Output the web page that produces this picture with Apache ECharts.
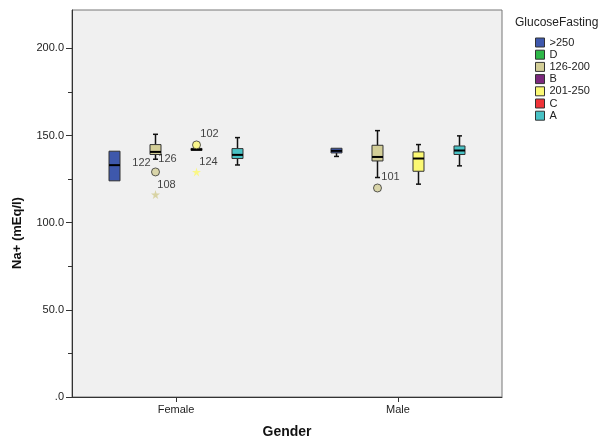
<!DOCTYPE html>
<html>
<head>
<meta charset="utf-8">
<script src="https://cdn.jsdelivr.net/npm/echarts@6/dist/echarts.min.js"></script>
<style>html,body{margin:0;padding:0;background:#fff}#c{width:608px;height:440px}</style>
</head>
<body>
<div id="c"></div>
<script>
// ---- data ----
const genders = ['Female', 'Male'];
const groups = ['>250', 'D', '126-200', 'B', '201-250', 'C', 'A'];
const groupColors = ['#3e58ac', '#2eb848', '#d3ce97', '#7c287d', '#fbf873', '#ef3338', '#48c2c5'];
// box stats per gender: [min, Q1, median, Q3, max]
const boxGt250 = [[124, 124, 133, 141, 141], [138, 140, 141.2, 142.7, 142.7]];
const box126_200 = [[136.4, 139.1, 140.6, 144.8, 150.7], [125.9, 135.4, 137.7, 144.4, 152.8]];
const box201_250 = [[141.4, 141.4, 142, 142.6, 142.6], [122.1, 129.5, 136.8, 140.6, 144.8]];
const boxA = [[133.1, 136.8, 138.9, 142.5, 148.8], [132.6, 139.1, 141.4, 144.0, 149.8]];
// outliers: [genderIndex, group, value]
const outlierCircles = [[0, '126-200', 129.1], [0, '201-250', 144.6], [1, '126-200', 119.9]];
const extremeStars = [[0, '126-200', 116.1], [0, '201-250', 129.1]];
// case labels: [genderIndex, group, value, caseId]
const caseLabels = [
  [0, '126-200', 129.1, '122'], [0, '126-200', 129.1, '126'], [0, '126-200', 116.1, '108'],
  [0, '201-250', 144.6, '102'], [0, '201-250', 129.1, '124'], [1, '126-200', 119.9, '101']
];
const yTicks = [0, 50, 100, 150, 200];
const yMinorTicks = [25, 75, 125, 175];

// ---- layout ----
const labelOffsets = { '122': [-14, -9], '126': [12, -13], '108': [11, -10], '102': [13, -11], '124': [12, -10], '101': [13, -11] };
const SLOT = 41 / 222;
const slotIndex = { '>250': 0, '126-200': 1, '201-250': 2, 'A': 3 };
function xPos(g, grp) { return g + (slotIndex[grp] - 1.5) * SLOT; }
function colorOf(grp) { return groupColors[groups.indexOf(grp)]; }

const boxData = { '>250': boxGt250, '126-200': box126_200, '201-250': box201_250, 'A': boxA };
const FONT = 'Liberation Sans, Arial, sans-serif';

function renderBox(params, api) {
  const x = api.value(0);
  const ys = [1, 2, 3, 4, 5].map(i => api.coord([x, api.value(i)])[1]);
  const cx = api.coord([x, 0])[0];
  const [pMin, pQ1, pMed, pQ3, pMax] = ys;
  const w = 11, cap = 5;
  const col = api.visual('color');
  const ls = { stroke: '#111', lineWidth: 1.5 };
  const ch = [];
  if (pQ3 - pMax > 0.5) {
    ch.push({ type: 'line', shape: { x1: cx, y1: pMax, x2: cx, y2: pQ3 }, style: ls });
    ch.push({ type: 'line', shape: { x1: cx - cap / 2, y1: pMax, x2: cx + cap / 2, y2: pMax }, style: ls });
  }
  if (pMin - pQ1 > 0.5) {
    ch.push({ type: 'line', shape: { x1: cx, y1: pQ1, x2: cx, y2: pMin }, style: ls });
    ch.push({ type: 'line', shape: { x1: cx - cap / 2, y1: pMin, x2: cx + cap / 2, y2: pMin }, style: ls });
  }
  ch.push({ type: 'rect', shape: { x: cx - w / 2, y: pQ3, width: w, height: Math.max(pQ1 - pQ3, 2) }, style: { fill: col, stroke: '#333', lineWidth: 1 } });
  ch.push({ type: 'line', shape: { x1: cx - w / 2, y1: pMed, x2: cx + w / 2, y2: pMed }, style: { stroke: '#000', lineWidth: 2 } });
  return { type: 'group', children: ch };
}

const series = groups.map((grp, i) => ({
  type: 'custom',
  name: grp,
  renderItem: renderBox,
  itemStyle: { color: groupColors[i] },
  encode: { x: 0, y: [1, 2, 3, 4, 5] },
  data: boxData[grp] ? boxData[grp].map((s, g) => [xPos(g, grp)].concat(s)) : [],
  z: 2
}));

series.push({
  type: 'scatter', name: 'outliers', symbol: 'circle', symbolSize: 8, z: 3,
  data: outlierCircles.map(o => ({ value: [xPos(o[0], o[1]), o[2]], itemStyle: { color: colorOf(o[1]), borderColor: '#333', borderWidth: 1 } }))
});
series.push({
  type: 'scatter', name: 'extremes', z: 3,
  symbol: 'path://M50,0 L61,35 L98,35 L68,57 L79,91 L50,70 L21,91 L32,57 L2,35 L39,35 Z', symbolSize: 9,
  data: extremeStars.map(o => ({ value: [xPos(o[0], o[1]), o[2]], itemStyle: { color: colorOf(o[1]), opacity: 0.85 } }))
});
series.push({
  type: 'scatter', name: 'caseLabels', symbolSize: 0, z: 4, silent: true,
  data: caseLabels.map(o => ({
    value: [xPos(o[0], o[1]), o[2]],
    label: { show: true, formatter: o[3], offset: labelOffsets[o[3]], position: 'inside', color: '#111', fontSize: 11, fontFamily: FONT }
  }))
});

const chart = echarts.init(document.getElementById('c'), null, { renderer: 'canvas' });
chart.setOption({
  animation: false,
  backgroundColor: '#fff',
  title: { text: 'GlucoseFasting', left: 510, top: 12, textStyle: { fontSize: 12, fontWeight: 'normal', color: '#222', fontFamily: FONT } },
  legend: {
    orient: 'vertical', left: 530, top: 32, itemWidth: 9, itemHeight: 9, itemGap: 1.2, icon: 'rect',
    textStyle: { fontSize: 11, color: '#222', fontFamily: FONT },
    data: groups.map((g, i) => ({ name: g, itemStyle: { color: groupColors[i], borderColor: '#333', borderWidth: 1 } })),
    selectedMode: false
  },
  grid: { left: 72, right: 106, top: 10, bottom: 43, outerBoundsMode: 'none', containLabel: false, show: true, backgroundColor: '#f0f0f0', borderColor: '#777', borderWidth: 1 },
  xAxis: {
    type: 'value', min: -0.4685, max: 1.4685,
    name: 'Gender', nameLocation: 'middle', nameGap: 28, nameMoveOverlap: false,
    nameTextStyle: { fontSize: 14, fontWeight: 'bold', color: '#111', fontFamily: FONT },
    axisLine: { onZero: false, lineStyle: { color: '#333' } },
    axisTick: { length: 5, customValues: [0, 1], lineStyle: { color: '#333' } },
    axisLabel: { customValues: [0, 1], formatter: v => genders[Math.round(v)], fontSize: 11, color: '#222', margin: 7, fontFamily: FONT },
    splitLine: { show: false }
  },
  yAxis: [{
    type: 'value', min: 0, max: 222, position: 'left',
    axisLine: { show: true, onZero: false, lineStyle: { color: '#333' } },
    axisTick: { show: true, length: 6, customValues: yTicks, lineStyle: { color: '#333' } },
    axisLabel: { customValues: yTicks, formatter: v => v === 0 ? '.0' : v.toFixed(1), fontSize: 11, color: '#222', margin: 8, fontFamily: FONT },
    splitLine: { show: false }
  }, {
    type: 'value', min: 0, max: 222, position: 'left',
    axisLine: { show: false, onZero: false },
    axisTick: { show: true, length: 4, customValues: yMinorTicks, lineStyle: { color: '#333' } },
    axisLabel: { show: false },
    splitLine: { show: false }
  }],
  graphic: [{
    type: 'text', x: 17, y: 233, rotation: Math.PI / 2,
    style: { text: 'Na+ (mEq/l)', fontSize: 13, fontWeight: 'bold', fill: '#111', fontFamily: FONT, align: 'center', verticalAlign: 'middle' }
  }],
  series: series
});
</script>
</body>
</html>
